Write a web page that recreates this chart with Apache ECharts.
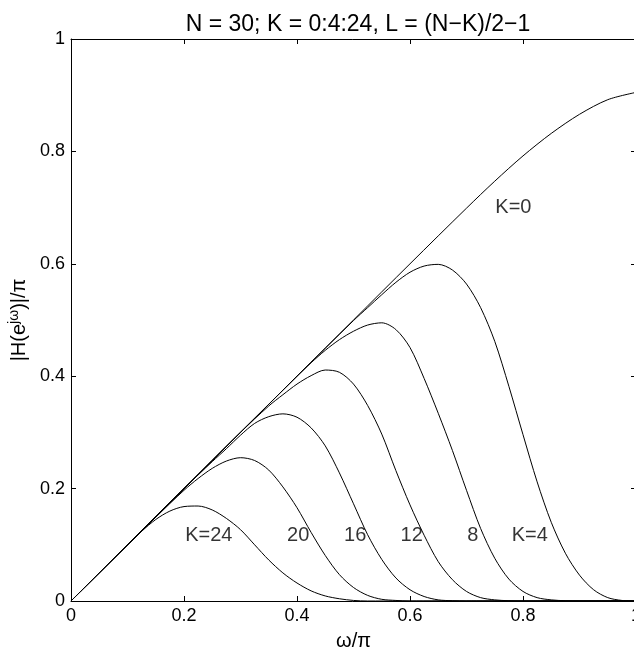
<!DOCTYPE html>
<html><head><meta charset="utf-8">
<script src="https://cdn.jsdelivr.net/npm/echarts@6/dist/echarts.min.js"></script>
<style>html,body{margin:0;padding:0;background:#fff}#c{width:634px;height:653px}</style>
</head><body><div id="c"></div>
<script>
const titleText = 'N = 30; K = 0:4:24, L = (N\u2212K)/2\u22121';
const xName = '\u03c9/\u03c0';
const kValues = [0, 4, 8, 12, 16, 20, 24];

const k0 = [[0,0],[0.1,0.1],[0.2,0.2],[0.3,0.3],[0.4,0.4],[0.5,0.5],[0.6,0.6],[0.7,0.699],[0.75,0.747],[0.8,0.792],[0.85,0.832],[0.9,0.866],[0.95,0.892],[1,0.905]];
const k4 = [[0,0],[0.2,0.2],[0.4,0.4],[0.5,0.499],[0.525,0.522],[0.55,0.545],[0.575,0.567],[0.6,0.585],[0.625,0.596],[0.65,0.599],[0.675,0.589],[0.7,0.564],[0.725,0.522],[0.75,0.462],[0.775,0.382],[0.8,0.296],[0.825,0.212],[0.85,0.14],[0.875,0.085],[0.9,0.046],[0.925,0.02],[0.95,0.006],[0.975,0.001],[1,0]];
const k8 = [[0,0],[0.2,0.2],[0.4,0.4],[0.425,0.424],[0.45,0.446],[0.475,0.465],[0.5,0.48],[0.525,0.491],[0.55,0.495],[0.575,0.483],[0.6,0.451],[0.625,0.396],[0.65,0.334],[0.675,0.268],[0.7,0.197],[0.725,0.129],[0.75,0.076],[0.775,0.039],[0.8,0.017],[0.825,0.006],[0.85,0.002],[0.875,0.0005],[0.9,0],[1,0]];
const k12 = [[0,0],[0.2,0.2],[0.3,0.3],[0.35,0.347],[0.375,0.367],[0.4,0.386],[0.425,0.401],[0.45,0.411],[0.475,0.407],[0.5,0.386],[0.525,0.348],[0.55,0.297],[0.575,0.232],[0.6,0.171],[0.625,0.117],[0.65,0.07],[0.675,0.038],[0.7,0.017],[0.725,0.006],[0.75,0.002],[0.775,0.0005],[0.8,0],[1,0]];
const k16 = [[0,0],[0.2,0.2],[0.25,0.248],[0.275,0.271],[0.3,0.295],[0.325,0.316],[0.35,0.328],[0.375,0.333],[0.4,0.327],[0.425,0.308],[0.45,0.276],[0.475,0.228],[0.5,0.173],[0.525,0.118],[0.55,0.074],[0.575,0.041],[0.6,0.02],[0.625,0.008],[0.65,0.002],[0.675,0.0005],[0.7,0],[1,0]];
const k20 = [[0,0],[0.15,0.149],[0.2,0.197],[0.225,0.218],[0.25,0.236],[0.275,0.249],[0.3,0.255],[0.325,0.25],[0.35,0.233],[0.375,0.203],[0.4,0.166],[0.425,0.122],[0.45,0.081],[0.475,0.047],[0.5,0.024],[0.525,0.01],[0.55,0.003],[0.575,0.001],[0.6,0],[1,0]];
const k24 = [[0,0],[0.1,0.1],[0.125,0.124],[0.15,0.145],[0.175,0.16],[0.2,0.168],[0.225,0.169],[0.25,0.162],[0.275,0.147],[0.3,0.127],[0.325,0.1],[0.35,0.073],[0.375,0.05],[0.4,0.032],[0.425,0.018],[0.45,0.009],[0.475,0.004],[0.5,0.001],[0.525,0],[1,0]];
const curves = [k0, k4, k8, k12, k16, k20, k24];

const curveLabels = ['K=0', 'K=4', '8', '12', '16', '20', 'K=24'];
const labelX = [0.783, 0.812, 0.711, 0.603, 0.503, 0.402, 0.244];
const labelY = [0.701, 0.117, 0.117, 0.117, 0.117, 0.117, 0.117];

const FONT = "'Liberation Sans', Arial, Helvetica, sans-serif";
const chart = echarts.init(document.getElementById('c'), null, {renderer: 'canvas'});

const lineSeries = curves.map((d, i) => ({
  type: 'line', name: 'K=' + kValues[i], data: d, showSymbol: false, smooth: 0.3,
  lineStyle: {color: '#000', width: 1}, animation: false, silent: true, z: 3
}));

const labelSeries = {
  type: 'scatter', symbolSize: 0, silent: true, animation: false,
  data: curveLabels.map((t, i) => ({value: [labelX[i], labelY[i]], name: t})),
  label: {show: true, position: 'inside', formatter: p => p.name, color: '#000', fontSize: 20, fontFamily: FONT}
};

function axisBase() {
  return {
    type: 'value', min: 0, max: 1, interval: 0.2,
    splitLine: {show: false},
    axisLine: {show: true, onZero: false, lineStyle: {color: '#000', width: 1}},
    axisTick: {show: true, inside: true, length: 5, lineStyle: {color: '#000', width: 1}}
  };
}

chart.setOption({
  backgroundColor: '#fff',
  animation: false,
  title: {text: titleText, left: 353, top: 8, textAlign: 'center',
    textStyle: {fontSize: 23, fontWeight: 'normal', color: '#000', fontFamily: FONT}},
  grid: {left: 71, top: 39, width: 565, height: 562, containLabel: false, outerBoundsMode: 'none'},
  xAxis: [
    Object.assign(axisBase(), {position: 'bottom', name: xName, nameLocation: 'middle', nameGap: 30,
      nameTextStyle: {fontSize: 20, color: '#000', fontFamily: FONT},
      axisLabel: {color: '#000', fontSize: 18, fontFamily: FONT, margin: 6}}),
    Object.assign(axisBase(), {position: 'top', axisLabel: {show: false}})
  ],
  yAxis: [
    Object.assign(axisBase(), {position: 'left', name: '|H(e{s|j\u03c9})|/\u03c0', nameLocation: 'middle', nameGap: 36, nameRotate: 90,
      nameTextStyle: {fontSize: 20, color: '#000', fontFamily: FONT, rich: {s: {fontSize: 14, verticalAlign: 'top', padding: [0,0,10,0], fontFamily: FONT, color: '#000'}}},
      axisLabel: {color: '#000', fontSize: 18, fontFamily: FONT, margin: 6}}),
    Object.assign(axisBase(), {position: 'right', axisLabel: {show: false}})
  ],
  series: lineSeries.concat([labelSeries])
});
</script></body></html>
